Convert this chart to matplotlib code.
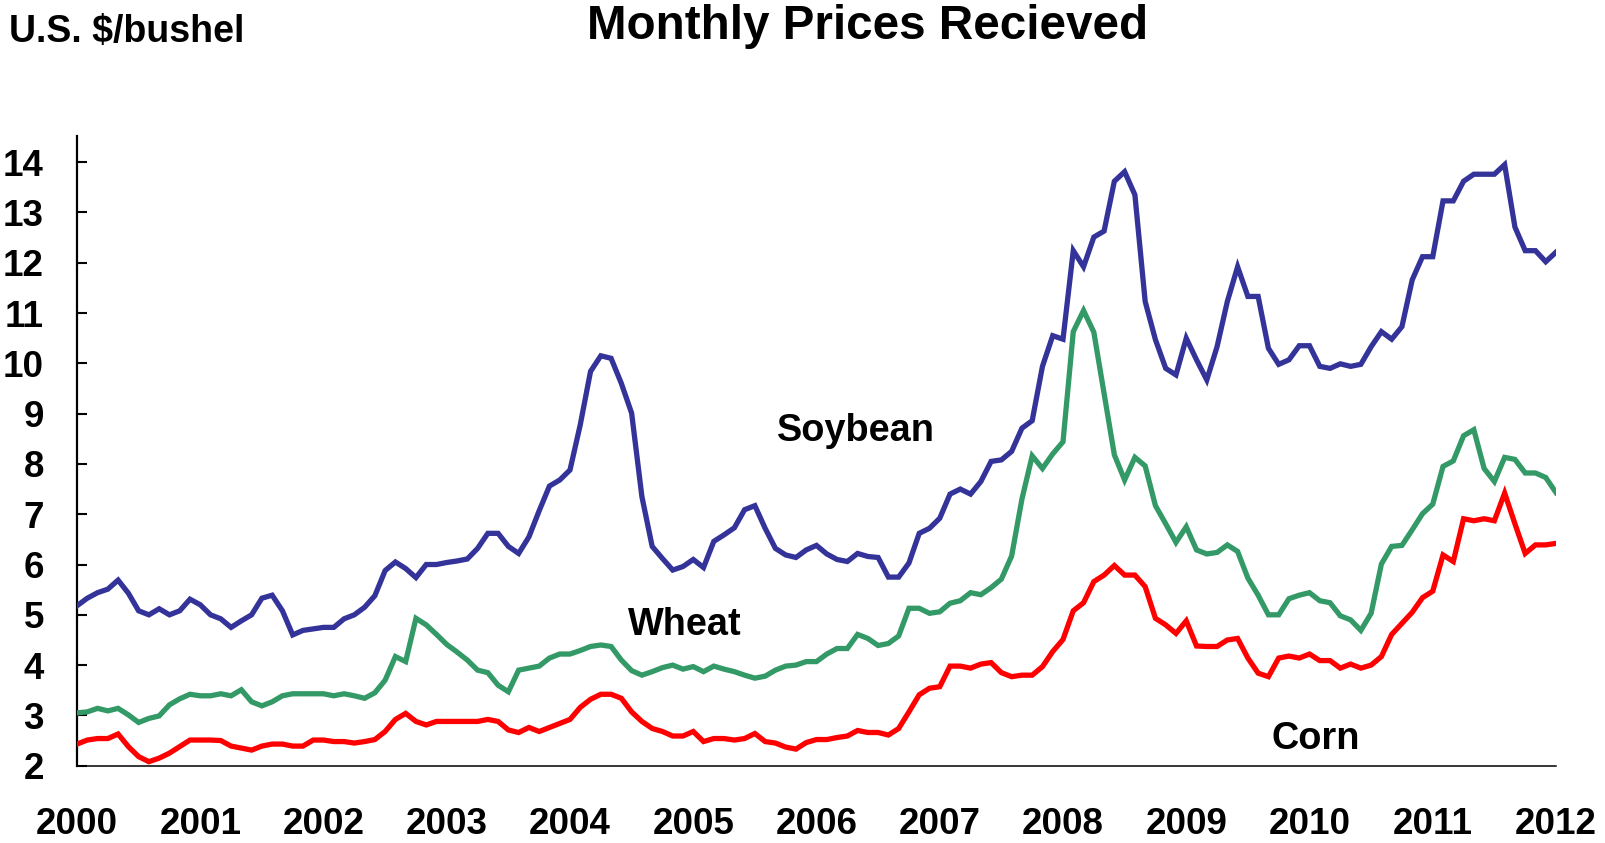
import numpy as np
import matplotlib
matplotlib.use("Agg")
import matplotlib.pyplot as plt

plt.rcParams['font.family'] = ['Liberation Sans', 'DejaVu Sans']
plt.rcParams['font.weight'] = 'bold'

title = "Monthly Prices Recieved"
ylabel = "U.S. $/bushel"
year_labels = [str(y) for y in range(2000, 2013)]
y_ticks = list(range(2, 15))

soybean = [5.18, 5.33, 5.44, 5.51, 5.69, 5.43, 5.08, 5.00, 5.12, 5.00, 5.08, 5.31,
           5.20, 5.00, 4.92, 4.75, 4.88, 5.00, 5.33, 5.39, 5.08, 4.60, 4.69, 4.72,
           4.75, 4.75, 4.92, 5.00, 5.15, 5.38, 5.88, 6.05, 5.92, 5.74, 6.00, 6.00,
           6.04, 6.07, 6.11, 6.32, 6.62, 6.62, 6.36, 6.22, 6.55, 7.07, 7.56, 7.68,
           7.88, 8.78, 9.84, 10.15, 10.10, 9.60, 9.01, 7.35, 6.36, 6.12, 5.89, 5.96,
           6.10, 5.94, 6.46, 6.59, 6.73, 7.09, 7.17, 6.72, 6.32, 6.19, 6.14, 6.29,
           6.38, 6.21, 6.10, 6.06, 6.22, 6.16, 6.14, 5.75, 5.75, 6.03, 6.62, 6.72,
           6.92, 7.40, 7.50, 7.40, 7.65, 8.05, 8.08, 8.25, 8.71, 8.86, 9.94, 10.55,
           10.48, 12.24, 11.92, 12.51, 12.63, 13.62, 13.81, 13.35, 11.23, 10.47, 9.90, 9.77,
           10.50, 10.07, 9.67, 10.33, 11.23, 11.92, 11.33, 11.33, 10.30, 9.98, 10.07, 10.35,
           10.35, 9.94, 9.90, 9.99, 9.94, 9.98, 10.33, 10.63, 10.48, 10.73, 11.66, 12.12,
           12.12, 13.23, 13.23, 13.62, 13.76, 13.76, 13.76, 13.95, 12.71, 12.24, 12.24, 12.02,
           12.21]

wheat = [3.05, 3.07, 3.14, 3.09, 3.14, 3.01, 2.86, 2.94, 2.99, 3.21, 3.33, 3.42,
         3.39, 3.39, 3.43, 3.39, 3.51, 3.27, 3.19, 3.27, 3.39, 3.43, 3.43, 3.43,
         3.43, 3.39, 3.43, 3.39, 3.34, 3.45, 3.70, 4.17, 4.07, 4.93, 4.80, 4.61,
         4.41, 4.26, 4.10, 3.90, 3.85, 3.60, 3.47, 3.90, 3.94, 3.98, 4.14, 4.22,
         4.22, 4.29, 4.37, 4.40, 4.37, 4.10, 3.89, 3.80, 3.87, 3.95, 4.00, 3.92,
         3.97, 3.87, 3.98, 3.92, 3.87, 3.80, 3.74, 3.78, 3.90, 3.98, 4.00, 4.07,
         4.07, 4.22, 4.33, 4.33, 4.61, 4.53, 4.39, 4.43, 4.58, 5.13, 5.13, 5.03,
         5.06, 5.23, 5.28, 5.44, 5.40, 5.54, 5.71, 6.17, 7.30, 8.16, 7.91, 8.20,
         8.44, 10.63, 11.05, 10.62, 9.40, 8.18, 7.68, 8.13, 7.96, 7.17, 6.81, 6.44,
         6.75, 6.29, 6.21, 6.24, 6.39, 6.26, 5.73, 5.39, 5.00, 5.00, 5.32, 5.39,
         5.44, 5.28, 5.24, 4.98, 4.90, 4.69, 5.03, 6.01, 6.36, 6.38, 6.69, 7.01,
         7.20, 7.95, 8.06, 8.56, 8.68, 7.91, 7.65, 8.13, 8.09, 7.82, 7.82, 7.73,
         7.43]

corn = [2.43, 2.51, 2.54, 2.54, 2.63, 2.38, 2.18, 2.08, 2.15, 2.25, 2.38, 2.51,
        2.51, 2.51, 2.50, 2.39, 2.35, 2.31, 2.39, 2.43, 2.43, 2.39, 2.39, 2.51,
        2.51, 2.48, 2.48, 2.45, 2.48, 2.52, 2.68, 2.92, 3.04, 2.88, 2.81, 2.88,
        2.88, 2.88, 2.88, 2.88, 2.92, 2.88, 2.71, 2.66, 2.76, 2.68, 2.76, 2.84,
        2.92, 3.16, 3.32, 3.42, 3.42, 3.34, 3.07, 2.88, 2.74, 2.68, 2.59, 2.59,
        2.68, 2.48, 2.54, 2.54, 2.51, 2.54, 2.64, 2.48, 2.45, 2.37, 2.33, 2.46,
        2.52, 2.52, 2.56, 2.59, 2.70, 2.66, 2.66, 2.61, 2.74, 3.07, 3.41, 3.54,
        3.57, 3.98, 3.98, 3.94, 4.02, 4.05, 3.85, 3.77, 3.80, 3.80, 3.97, 4.27,
        4.51, 5.08, 5.24, 5.66, 5.79, 5.98, 5.79, 5.79, 5.56, 4.93, 4.80, 4.63,
        4.88, 4.38, 4.37, 4.37, 4.50, 4.53, 4.14, 3.84, 3.77, 4.14, 4.18, 4.14,
        4.22, 4.09, 4.09, 3.94, 4.02, 3.94, 4.00, 4.17, 4.61, 4.83, 5.05, 5.34,
        5.47, 6.19, 6.06, 6.91, 6.87, 6.91, 6.87, 7.42, 6.81, 6.22, 6.39, 6.39,
        6.42]

series_names = ["Soybean", "Wheat", "Corn"]
colors = ["#333399", "#339966", "#FF0000"]

months = np.arange(len(soybean))
x = 2000 + months / 12.0

fig = plt.figure(figsize=(16.05, 8.43), dpi=100)
ax = fig.add_axes([0.04798, 0.09170, 0.92149, 0.74697])

for vals, col in zip([soybean, wheat, corn], colors):
    ax.plot(x, vals, color=col, lw=3.8, solid_joinstyle='miter', zorder=3)

ax.set_xlim(2000, 2012)
ax.set_ylim(2, 14.52)

ax.spines['top'].set_visible(False)
ax.spines['right'].set_visible(False)
ax.spines['left'].set_linewidth(1.6)
ax.spines['bottom'].set_linewidth(1.1)

ax.set_xticks(range(2000, 2013))
ax.set_xticklabels(year_labels, fontsize=26.5, fontweight='bold')
ax.set_yticks(y_ticks)
ax.set_yticklabels([str(v) for v in y_ticks], fontsize=26.5, fontweight='bold')
ax.tick_params(axis='x', length=0, pad=29.5)
ax.tick_params(axis='y', direction='in', length=7.2, width=1.5, pad=23.8)

# series labels
ax.text(2006.32, 8.46, series_names[0], fontsize=27.3, fontweight='bold',
        ha='center', va='baseline')
ax.text(2004.93, 4.60, series_names[1], fontsize=27.3, fontweight='bold',
        ha='center', va='baseline')
ax.text(2010.05, 2.33, series_names[2], fontsize=27.3, fontweight='bold',
        ha='center', va='baseline')

fig.text(868 / 1605, 1 - 39 / 843, title, fontsize=34.3, fontweight='bold',
         ha='center', va='baseline')
fig.text(9 / 1605, 1 - 42 / 843, ylabel, fontsize=27, fontweight='bold',
         ha='left', va='baseline')

fig.savefig("out.png", dpi=100, facecolor='white')
